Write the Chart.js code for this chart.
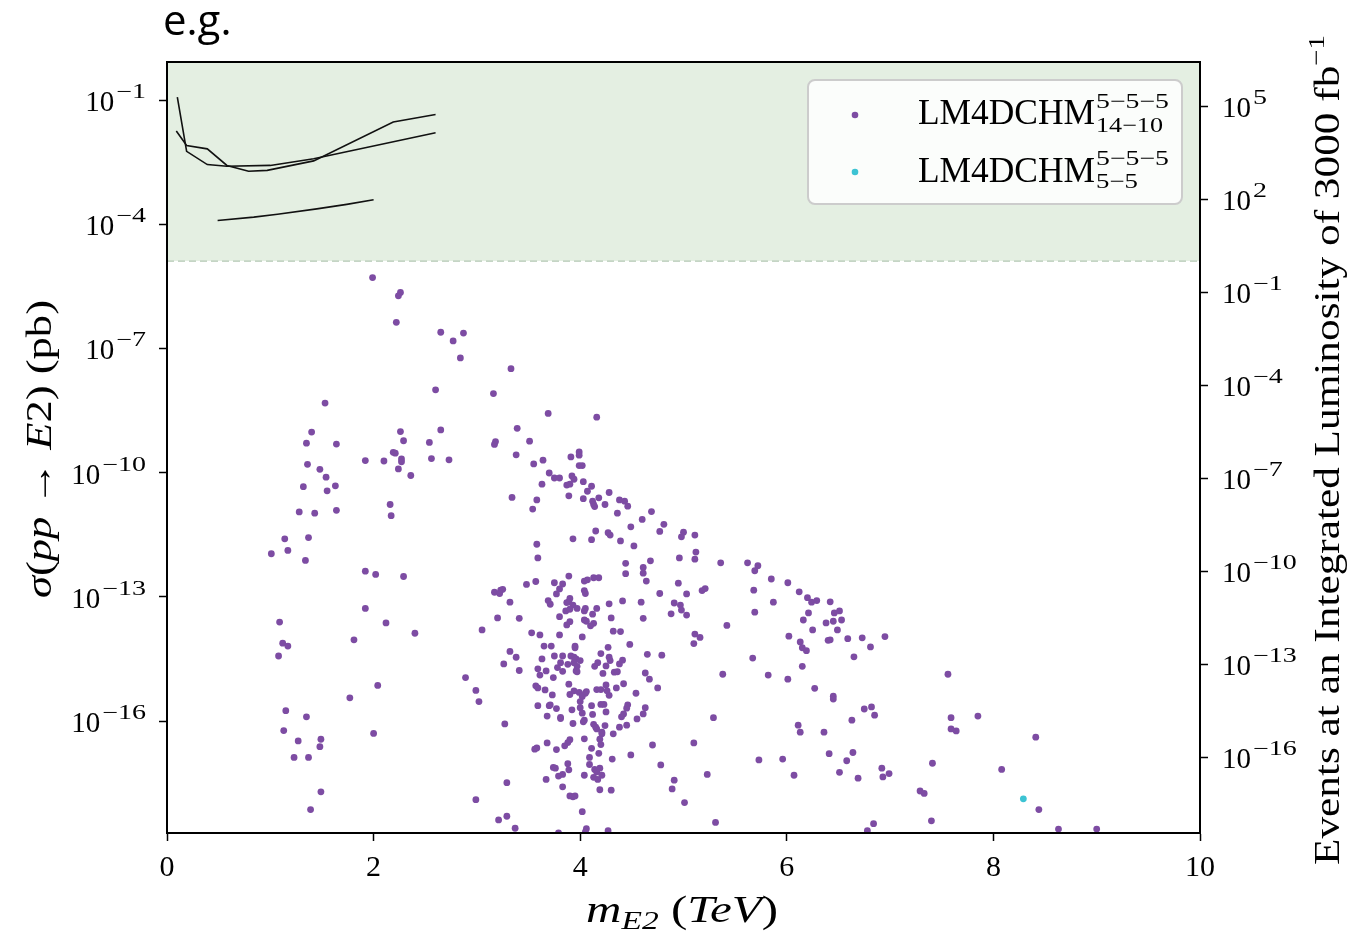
<!DOCTYPE html>
<html>
<head>
<meta charset="utf-8">
<script src="https://cdn.jsdelivr.net/npm/chart.js@4.4.0/dist/chart.umd.min.js"></script>
<style>
    html, body { margin: 0; padding: 0; background: #fff; }
</style>
</head>
<body>
<canvas id="grafico" width="1350" height="937"></canvas>
<script>
// ==== Dados ====
// pontos: [m_E2 em TeV, log10(sigma / pb)]
const pontosLM14 = [
    [1.99,-5.29],[2.26,-5.65],[2.24,-5.73],[2.22,-6.37],[2.65,-6.61],[2.87,-6.63],[2.77,-6.82],[2.84,-7.23],[2.60,-8.00],[1.53,-8.32],
    [1.40,-9.02],[2.26,-9.01],[2.65,-8.97],[1.35,-9.29],[1.64,-9.31],[2.29,-9.23],[2.54,-9.27],[2.19,-9.51],[2.21,-9.53],[1.92,-9.71],
    [2.10,-9.72],[2.27,-9.67],[2.27,-9.74],[2.56,-9.66],[2.73,-9.69],[1.36,-9.80],[1.48,-9.92],[2.24,-9.91],[1.54,-10.11],[2.36,-10.07],
    [1.32,-10.34],[1.63,-10.32],[1.55,-10.44],[1.28,-10.95],[1.43,-10.98],[1.64,-10.91],[2.16,-10.77],[2.17,-11.04],[1.14,-11.60],[1.37,-11.57],
    [3.33,-7.49],[3.16,-8.09],[3.69,-8.57],[4.16,-8.66],[3.39,-8.93],[3.18,-9.25],[3.17,-9.32],[3.51,-9.24],[3.38,-9.57],[3.99,-9.50],
    [3.99,-9.58],[3.91,-9.62],[3.55,-9.79],[3.64,-9.70],[3.99,-9.83],[4.02,-9.83],[3.70,-10.01],[3.75,-10.13],[3.80,-10.13],[3.92,-10.08],
    [3.94,-10.16],[4.03,-10.22],[3.63,-10.28],[3.87,-10.30],[3.90,-10.28],[4.11,-10.33],[4.07,-10.45],[4.28,-10.48],[3.34,-10.60],[3.58,-10.66],
    [3.89,-10.56],[4.03,-10.63],[4.18,-10.61],[4.12,-10.69],[4.13,-10.77],[4.14,-10.82],[4.24,-10.77],[4.38,-10.66],[4.43,-10.69],[4.46,-10.81],
    [3.54,-10.88],[4.36,-10.98],[4.69,-10.94],[4.60,-11.13],[4.49,-11.31],[4.81,-11.25],[4.77,-11.42],[4.15,-11.41],[4.27,-11.45],[4.29,-11.51],
    [3.93,-11.60],[4.11,-11.62],[4.39,-11.65],[4.52,-11.77],[3.58,-11.73],[5.00,-11.44],[4.98,-11.55],[5.11,-11.51],
    [1.01,-11.96],[1.17,-11.88],[1.34,-12.12],[1.92,-12.38],[2.02,-12.46],[2.29,-12.51],[1.92,-13.28],[2.12,-13.63],[2.40,-13.88],[1.09,-13.61],
    [1.12,-14.12],[1.17,-14.19],[1.08,-14.43],[1.81,-14.04],[2.04,-15.14],[1.77,-15.44],[1.15,-15.75],[1.35,-15.90],[1.13,-16.23],[1.27,-16.48],
    [1.49,-16.44],[1.48,-16.62],[1.23,-16.88],[1.37,-16.88],[2.00,-16.30],[1.49,-17.71],[1.39,-18.14],[2.89,-14.95],[2.99,-15.26],[3.02,-15.53],
    [2.99,-17.90],[3.05,-13.80],
    [3.59,-12.06],[4.44,-12.19],[4.44,-12.44],[4.61,-12.29],[4.61,-12.43],[4.68,-12.13],[4.64,-12.62],[4.77,-12.92],[3.17,-12.89],[3.23,-12.84],
    [3.25,-12.82],[3.22,-12.92],[3.48,-12.70],[3.57,-12.63],[3.75,-12.66],[3.83,-12.69],[3.89,-12.50],[3.80,-12.81],[3.77,-12.93],[4.04,-12.62],
    [4.07,-12.59],[4.13,-12.54],[4.18,-12.54],[4.04,-12.85],[4.05,-12.92],[3.32,-13.13],[3.69,-13.09],[3.71,-13.18],[3.89,-13.12],[3.87,-13.14],
    [3.90,-13.04],[3.93,-13.20],[3.97,-13.28],[3.86,-13.34],[3.90,-13.30],[4.05,-13.28],[4.04,-13.34],[4.16,-13.28],[4.12,-13.42],[4.28,-13.17],
    [4.41,-13.10],[4.59,-13.13],[3.20,-13.51],[3.41,-13.52],[3.80,-13.48],[3.90,-13.60],[3.87,-13.68],[4.04,-13.56],[4.06,-13.59],[4.13,-13.64],
    [4.10,-13.70],[4.30,-13.51],[4.61,-13.52],[3.53,-13.87],[3.61,-13.92],[3.80,-13.92],[4.02,-13.97],[4.32,-13.83],[4.39,-13.84],[4.48,-14.15],
    [3.65,-14.19],[3.72,-14.19],[3.95,-14.19],[3.95,-14.23],[4.27,-14.22],[3.32,-14.32],[3.38,-14.46],[3.26,-14.62],[3.63,-14.50],[3.75,-14.43],
    [3.83,-14.43],[3.91,-14.43],[3.94,-14.46],[3.96,-14.50],[3.81,-14.59],[3.78,-14.71],[3.83,-14.80],[3.88,-14.63],[3.94,-14.59],[3.97,-14.68],
    [4.00,-14.54],[3.96,-14.79],[3.97,-14.81],[3.59,-14.74],[3.67,-14.79],[3.61,-14.89],[3.41,-14.78],[3.74,-14.95],[4.17,-14.59],[4.14,-14.68],
    [4.20,-14.37],[4.28,-14.46],[4.25,-14.67],[4.29,-14.54],[4.22,-14.85],[4.38,-14.62],[4.41,-14.53],[4.33,-14.82],[4.36,-14.81],[4.65,-14.39],
    [4.63,-14.84],[4.67,-14.99],[3.57,-15.15],[3.59,-15.20],[3.66,-15.25],[3.73,-15.37],[3.89,-15.11],[3.90,-15.36],[3.94,-15.27],[3.99,-15.31],
    [4.02,-15.41],[4.05,-15.33],[4.06,-15.29],[4.00,-15.53],[4.16,-15.24],[4.20,-15.24],[4.25,-15.13],[4.26,-15.27],[4.28,-15.38],[4.35,-15.20],
    [4.42,-15.10],[4.54,-15.33],[4.75,-15.20],[3.59,-15.63],[3.70,-15.63],[3.71,-15.61],[3.77,-15.70],[3.68,-15.88],[3.81,-15.91],[3.81,-15.94],
    [3.92,-15.73],[4.00,-15.68],[4.02,-15.81],[4.11,-15.63],[4.20,-15.60],[4.23,-15.60],[4.25,-15.78],[4.12,-15.84],[4.46,-15.61],[4.45,-15.69],
    [4.42,-15.83],[4.40,-15.90],[4.63,-15.68],[4.61,-15.83],[4.55,-15.95],[4.04,-15.98],[4.03,-16.02],[3.93,-16.06],[3.27,-16.07],[4.13,-16.08],
    [4.15,-16.15],[4.16,-16.19],[4.24,-16.11],[4.38,-16.15],[4.45,-16.10],[4.21,-16.27],[4.21,-16.31],[4.32,-16.31],[4.19,-16.44],[4.20,-16.57],
    [4.04,-16.43],[3.90,-16.45],[3.88,-16.52],[3.85,-16.60],[3.68,-16.53],[3.77,-16.69],[3.58,-16.65],[3.56,-16.68],[4.11,-16.66],[4.18,-16.78],
    [4.31,-16.92],[4.49,-16.82],[4.70,-16.58],[4.09,-16.88],[3.88,-17.03],[3.89,-17.18],[3.83,-17.29],[3.79,-17.33],[3.74,-17.12],[3.76,-17.14],
    [3.67,-17.41],[4.09,-17.05],[4.14,-17.17],[4.16,-17.23],[4.19,-17.14],[4.04,-17.31],[4.13,-17.36],[4.17,-17.41],[4.21,-17.31],[3.29,-17.49],
    [3.83,-17.59],[4.19,-17.66],[4.30,-17.67],[3.90,-17.81],[3.93,-17.83],[3.95,-17.81],[4.02,-18.19],[3.21,-18.39],[3.29,-18.30],[3.37,-18.59],
    [4.06,-18.60],[4.05,-18.68],[4.27,-18.65],[3.79,-18.70],
    [4.79,-14.41],[4.78,-17.06],[5.12,-11.92],[4.96,-12.06],[5.11,-12.09],[5.36,-12.18],[5.62,-12.18],[5.72,-12.25],[5.69,-12.37],[4.95,-12.67],
    [5.03,-12.93],[5.18,-12.85],[5.21,-12.80],[5.68,-12.84],[5.85,-12.57],[6.01,-12.66],[6.12,-12.88],[6.20,-13.02],[6.24,-13.13],[6.29,-13.09],
    [6.42,-13.12],[5.87,-13.13],[4.91,-13.15],[4.97,-13.20],[4.98,-13.32],[4.88,-13.41],[5.03,-13.44],[5.69,-13.37],[6.21,-13.39],[6.16,-13.56],
    [6.38,-13.63],[6.45,-13.59],[6.46,-13.39],[6.51,-13.34],[6.53,-13.56],[6.25,-13.80],[6.49,-13.80],[5.42,-13.69],[5.11,-13.90],[5.16,-13.98],
    [5.10,-14.13],[6.02,-13.95],[6.13,-14.09],[6.15,-14.23],[6.19,-14.30],[6.42,-14.04],[6.40,-14.05],[6.59,-14.01],[6.73,-13.99],[6.95,-13.96],
    [6.81,-14.21],[6.65,-14.45],[5.67,-14.48],[6.15,-14.68],[5.38,-14.87],[5.82,-14.89],[6.01,-14.99],[6.27,-15.21],[6.45,-15.40],[6.45,-15.47],
    [6.75,-15.71],[6.82,-15.66],[6.85,-15.86],[6.63,-15.98],[5.29,-15.92],[6.11,-16.10],[6.13,-16.27],[6.36,-16.27],[5.10,-16.53],[5.73,-16.94],
    [5.96,-16.92],[6.41,-16.79],[6.64,-16.76],[6.58,-16.96],[6.51,-17.24],[6.69,-17.38],[6.07,-17.31],[5.23,-17.29],[4.91,-17.43],[4.89,-17.64],
    [5.01,-17.97],[6.92,-17.14],[6.93,-17.35],[6.99,-17.27],[5.31,-18.45],[6.84,-18.48],[6.78,-18.65],
    [7.56,-14.87],[7.59,-15.92],[7.59,-16.19],[7.64,-16.24],[7.85,-15.88],[8.41,-16.39],[7.41,-17.02],[8.08,-17.17],[7.29,-17.69],[7.33,-17.75],
    [7.40,-18.41],[8.44,-18.14],[8.63,-18.61],[9.00,-18.61]
];
const pontosLM5 = [[8.29,-17.88]];

// curvas de limite (pretas)
const curvaLimite1 = [[0.09,-1.75],[0.19,-2.10],[0.39,-2.18],[0.58,-2.58],[0.79,-2.72],[0.97,-2.70],[1.42,-2.47],[2.19,-1.53],[2.60,-1.35]];
const curvaLimite2 = [[0.10,-0.93],[0.19,-2.24],[0.39,-2.56],[0.58,-2.60],[1.00,-2.58],[1.42,-2.42],[2.60,-1.79]];
const curvaLimite3 = [[0.49,-3.91],[0.84,-3.83],[1.07,-3.76],[1.45,-3.63],[1.74,-3.52],[2.00,-3.41]];

const ticksMassa = [0, 2, 4, 6, 8, 10];
const ticksSigma = [-1, -4, -7, -10, -13, -16];
const ticksEventos = [5, 2, -1, -4, -7, -10, -13, -16];
const faixaMassa = [0, 10];
const faixaSigma = [-18.705, -0.082];
const faixaEventos = [-18.45, 6.42];
const limiteEventos = 1;

const roxo = '#7d4ca3';
const ciano = '#3cc3d3';
const serif = '"Liberation Serif", "DejaVu Serif", serif';

const paraXY = p => ({ x: p[0], y: Math.pow(10, p[1]) });

// ==== Texto ====
function larguraPartes(ctx, partes) {
    let w = 0;
    partes.forEach(p => {
        ctx.font = p.font;
        w += ctx.measureText(p.t).width;
    });
    return w;
}

function desenhaPartes(ctx, partes, x, y) {
    let cx = x;
    partes.forEach(p => {
        ctx.font = p.font;
        ctx.fillText(p.t, cx, y + (p.dy || 0));
        cx += ctx.measureText(p.t).width;
    });
}

// centra e estica o texto ate a largura alvo
function titulo(ctx, partes, cx, cy, alvo, girar) {
    const w = larguraPartes(ctx, partes);
    ctx.save();
    ctx.translate(cx, cy);
    if (girar) ctx.rotate(-Math.PI / 2);
    ctx.scale(alvo / w, 1);
    desenhaPartes(ctx, partes, -w / 2, 0);
    ctx.restore();
}

function textoLargo(ctx, txt, x, y, alvo) {
    const w = ctx.measureText(txt).width;
    ctx.save();
    ctx.translate(x, y);
    ctx.scale(alvo / w, 1);
    ctx.fillText(txt, 0, 0);
    ctx.restore();
}

function potencia(ctx, exp, x, y, alinhar) {
    const sup = String(exp).replace('-', '\u2212');
    ctx.font = '29px ' + serif;
    const wb = ctx.measureText('10').width;
    ctx.font = '20px ' + serif;
    const ws = ctx.measureText(sup).width * 1.4;
    const x0 = alinhar === 'right' ? x - wb - 2 - ws : x;
    ctx.font = '29px ' + serif;
    ctx.fillText('10', x0, y + 11);
    ctx.font = '20px ' + serif;
    textoLargo(ctx, sup, x0 + wb + 2, y - 2, ws);
}

// ==== Plugins ====
const sombra = {
    id: 'sombra',
    beforeDatasetsDraw(chart) {
        const { ctx, chartArea: a, scales } = chart;
        const yLim = scales.yEventos.getPixelForValue(limiteEventos);
        ctx.save();
        ctx.fillStyle = '#e4efe2';
        ctx.fillRect(a.left, a.top, a.right - a.left, yLim - a.top);
        ctx.strokeStyle = '#b3c7b3';
        ctx.lineWidth = 1.3;
        ctx.setLineDash([7, 4]);
        ctx.beginPath();
        ctx.moveTo(a.left, yLim);
        ctx.lineTo(a.right, yLim);
        ctx.stroke();
        ctx.restore();
    }
};

const textos = {
    id: 'textos',
    afterDraw(chart) {
        const { ctx, chartArea: a, scales } = chart;
        ctx.save();

        // moldura
        ctx.strokeStyle = '#000';
        ctx.lineWidth = 2;
        ctx.strokeRect(a.left, a.top, a.right - a.left, a.bottom - a.top);

        ctx.fillStyle = '#000';
        ctx.textBaseline = 'alphabetic';
        ctx.textAlign = 'left';

        ticksSigma.forEach(e => {
            potencia(ctx, e, a.left - 21, scales.y.getPixelForValue(Math.pow(10, e)), 'right');
        });
        ticksEventos.forEach(e => {
            potencia(ctx, e, a.right + 22, scales.yEventos.getPixelForValue(Math.pow(10, e)), 'left');
        });

        // titulos dos eixos
        titulo(ctx, [
            { t: 'm', font: 'italic 38px ' + serif },
            { t: 'E2', font: 'italic 26px ' + serif, dy: 7 },
            { t: ' (', font: '38px ' + serif },
            { t: 'TeV', font: 'italic 38px ' + serif },
            { t: ')', font: '38px ' + serif }
        ], 682, 922, 192, false);

        titulo(ctx, [
            { t: '\u03c3', font: 'italic 36px ' + serif },
            { t: '(', font: '36px ' + serif },
            { t: 'pp', font: 'italic 36px ' + serif },
            { t: ' \u2192 ', font: '36px ' + serif },
            { t: 'E', font: 'italic 36px ' + serif },
            { t: '2) (pb)', font: '36px ' + serif }
        ], 51, 449, 298, true);

        titulo(ctx, [
            { t: 'Events at an Integrated Luminosity of 3000 fb', font: '36px ' + serif },
            { t: '\u22121', font: '24px ' + serif, dy: -15 }
        ], 1339, 450, 830, true);

        // legenda
        ctx.fillStyle = 'rgba(255,255,255,0.85)';
        ctx.strokeStyle = '#cccccc';
        ctx.lineWidth = 2;
        ctx.beginPath();
        ctx.roundRect(808, 80, 374, 124, 7);
        ctx.fill();
        ctx.stroke();

        ctx.fillStyle = roxo;
        ctx.beginPath(); ctx.arc(855, 115, 3.3, 0, Math.PI * 2); ctx.fill();
        ctx.fillStyle = ciano;
        ctx.beginPath(); ctx.arc(855, 172, 3.3, 0, Math.PI * 2); ctx.fill();

        ctx.fillStyle = '#000';
        ctx.font = '35px ' + serif;
        textoLargo(ctx, 'LM4DCHM', 918, 124, 177);
        textoLargo(ctx, 'LM4DCHM', 918, 182, 177);
        ctx.font = '21px ' + serif;
        textoLargo(ctx, '5\u22125\u22125', 1096, 108, 73);
        textoLargo(ctx, '14\u221210', 1096, 132, 67);
        textoLargo(ctx, '5\u22125\u22125', 1096, 165, 73);
        textoLargo(ctx, '5\u22125', 1096, 188, 42);

        ctx.font = '42px "Open Sans", "Liberation Sans", sans-serif';
        ctx.fillText('e.g.', 163, 35);

        ctx.restore();
    }
};

// ==== Grafico ====
const ctx = document.getElementById('grafico').getContext('2d');

const linha = d => ({
    data: d.map(paraXY),
    showLine: true,
    borderColor: '#111',
    borderWidth: 1.6,
    pointRadius: 0,
    fill: false,
    tension: 0,
    yAxisID: 'y'
});

const grafico = new Chart(ctx, {
    type: 'scatter',
    data: {
        datasets: [
            {
                label: 'LM4DCHM 5-5-5 14-10',
                data: pontosLM14.map(paraXY),
                backgroundColor: roxo,
                borderWidth: 0,
                pointRadius: 3.4,
                yAxisID: 'y'
            },
            {
                label: 'LM4DCHM 5-5-5 5-5',
                data: pontosLM5.map(paraXY),
                backgroundColor: ciano,
                borderWidth: 0,
                pointRadius: 3.4,
                yAxisID: 'y'
            },
            linha(curvaLimite1),
            linha(curvaLimite2),
            linha(curvaLimite3)
        ]
    },
    options: {
        responsive: false,
        animation: false,
        devicePixelRatio: 1,
        layout: { padding: { top: 62, left: 0, right: 0, bottom: 0 } },
        plugins: {
            legend: { display: false },
            tooltip: { enabled: false }
        },
        scales: {
            x: {
                type: 'linear',
                min: faixaMassa[0],
                max: faixaMassa[1],
                afterBuildTicks: s => { s.ticks = ticksMassa.map(v => ({ value: v })); },
                ticks: { color: '#000', font: { family: serif, size: 30 }, padding: 9, maxRotation: 0 },
                grid: { drawOnChartArea: false, drawTicks: true, tickLength: 8, tickWidth: 1.5, tickColor: '#000' },
                border: { color: '#000', width: 2 },
                afterFit: s => { s.height = 104; }
            },
            y: {
                type: 'logarithmic',
                position: 'left',
                min: Math.pow(10, faixaSigma[0]),
                max: Math.pow(10, faixaSigma[1]),
                afterBuildTicks: s => { s.ticks = ticksSigma.map(e => ({ value: Math.pow(10, e) })); },
                ticks: { display: false },
                grid: { drawOnChartArea: false, drawTicks: true, tickLength: 8, tickWidth: 1.5, tickColor: '#000' },
                border: { color: '#000', width: 2 },
                afterFit: s => { s.width = 167; }
            },
            yEventos: {
                type: 'logarithmic',
                position: 'right',
                min: Math.pow(10, faixaEventos[0]),
                max: Math.pow(10, faixaEventos[1]),
                afterBuildTicks: s => { s.ticks = ticksEventos.map(e => ({ value: Math.pow(10, e) })); },
                ticks: { display: false },
                grid: { drawOnChartArea: false, drawTicks: true, tickLength: 8, tickWidth: 1.5, tickColor: '#000' },
                border: { color: '#000', width: 2 },
                afterFit: s => { s.width = 150; }
            }
        }
    },
    plugins: [sombra, textos]
});
</script>
</body>
</html>
